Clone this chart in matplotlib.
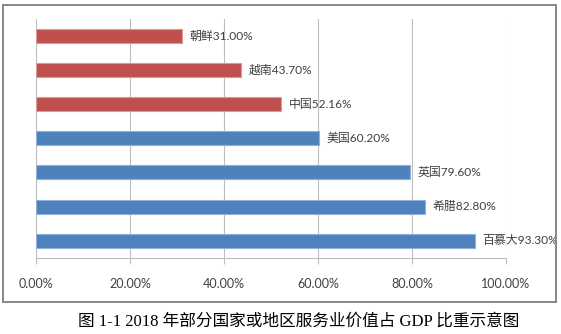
import matplotlib
matplotlib.use("Agg")
import matplotlib.pyplot as plt
from matplotlib.patches import Rectangle
from matplotlib.ticker import FuncFormatter

countries = ["百慕大", "希腊", "英国", "美国", "中国", "越南", "朝鲜"]
values = [93.30, 82.80, 79.60, 60.20, 52.16, 43.70, 31.00]
colors = ["#4F81BD", "#4F81BD", "#4F81BD", "#4F81BD", "#C0504D", "#C0504D", "#C0504D"]
edge_colors = ["#8EB0DA", "#8EB0DA", "#8EB0DA", "#8EB0DA", "#DB9A98", "#DB9A98", "#DB9A98"]
xticks = [0, 20, 40, 60, 80, 100]
caption = "图 1-1 2018 年部分国家或地区服务业价值占 GDP 比重示意图"

W, H = 561, 334
fig = plt.figure(figsize=(W / 100, H / 100), dpi=100)

# outer frame
fig.patches.append(Rectangle((2.5 / W, 1 - 301.5 / H), (555.5 - 2.5) / W, (301.5 - 4.5) / H,
                             transform=fig.transFigure, fill=False, edgecolor="#878787",
                             linewidth=1.4, zorder=0))

ax = fig.add_axes([36 / W, 1 - 257.7 / H, 470 / W, (257.7 - 19) / H])
ypos = list(range(len(countries)))
ax.barh(ypos, values, height=0.41, color=colors, edgecolor=edge_colors, linewidth=0.8, zorder=3)

font = ["Lato", "Noto Sans CJK SC", "DejaVu Sans"]
for y, v, c in zip(ypos, values, countries):
    ax.text(v + 1.6, y, f"{c}{v:.2f}%", va="center", ha="left", fontsize=8.6,
            color="#404040", family=font, zorder=4)

ax.set_xlim(0, 100)
ax.set_ylim(-0.5, len(countries) - 0.5)
ax.set_xticks(xticks)
ax.xaxis.set_major_formatter(FuncFormatter(lambda x, p: f"{x:.2f}%"))
for lab in ax.get_xticklabels():
    lab.set_family(font)
ax.tick_params(axis="x", length=4.5, width=0.8, color="#BEBEBE", labelsize=9,
               labelcolor="#404040", pad=10)
ax.set_yticks([])
ax.grid(axis="x", color="#BEBEBE", linewidth=0.8, zorder=0)
for s in ["top", "right", "left"]:
    ax.spines[s].set_visible(False)
ax.spines["bottom"].set_color("#BEBEBE")
ax.spines["bottom"].set_linewidth(0.8)

fig.text(299 / W, 1 - 322 / H, caption, ha="center", va="center", fontsize=12,
         family=["Liberation Serif", "Noto Sans CJK SC"], color="#000000")

fig.savefig("out.png", dpi=100)
